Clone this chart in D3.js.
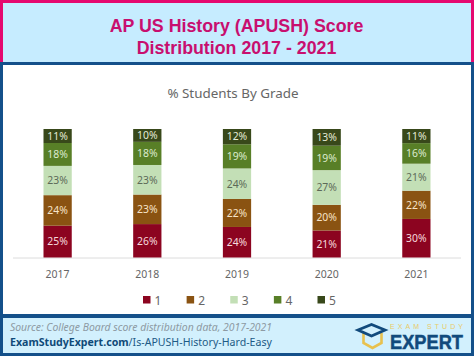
<!DOCTYPE html>
<html><head><meta charset="utf-8">
<script src="https://cdnjs.cloudflare.com/ajax/libs/d3/7.8.5/d3.min.js"></script>
<style>html,body{margin:0;padding:0;background:#fff}svg{display:block}text{font-family:"Noto Sans","Open Sans",sans-serif}</style>
</head><body><svg id="c" width="474" height="356"></svg>
<script>
const years = ["2017","2018","2019","2020","2021"];
const grades = ["1","2","3","4","5"];
const grade1 = [25,26,24,21,30];
const grade2 = [24,23,22,20,22];
const grade3 = [23,23,24,27,21];
const grade4 = [18,18,19,19,16];
const grade5 = [11,10,12,13,11];
const colours = ["#8c0420","#8a5312","#c3dfb6","#587f27","#38481a"];
const labelColours = ["#f6d9dc","#f7e3c8","#5d6a58","#dcebcf","#e4ebd8"];
const titleLines = ["AP US History (APUSH) Score","Distribution 2017 - 2021"];

const svg = d3.select("#c");
const pink="#e5096f", navy="#14508a", pale="#c6ecff";
svg.append("rect").attr("width",474).attr("height",356).attr("fill",navy);
svg.append("rect").attr("width",474).attr("height",62).attr("fill",pink);
svg.append("rect").attr("x",3).attr("y",3).attr("width",468).attr("height",59).attr("fill",pale);
svg.append("rect").attr("x",3).attr("y",65).attr("width",468).attr("height",249).attr("fill","#fff");
svg.append("rect").attr("x",3).attr("y",318).attr("width",468).attr("height",35).attr("fill","#d2f0fd");

svg.selectAll(".t").data(titleLines).join("text").attr("class","t")
  .attr("x",236.5).attr("y",(d,i)=>32+i*21.6).attr("text-anchor","middle")
  .attr("font-size",17.8).attr("font-weight",700).attr("fill","#c80f6f")
  .style("font-family",'"Liberation Sans"').text(d=>d);
svg.append("text").attr("x",233).attr("y",98).attr("text-anchor","middle")
  .attr("font-size",13.4).attr("fill","#666").text("% Students By Grade");

const rows = years.map((y,i)=>({year:y,"1":grade1[i],"2":grade2[i],"3":grade3[i],"4":grade4[i],"5":grade5[i]}));
const series = d3.stack().keys(grades).offset(d3.stackOffsetExpand)(rows);
const x = d3.scaleBand().domain(years).range([13,461]).paddingInner(0.685).paddingOuter(0.34);
const y = d3.scaleLinear().domain([0,1]).range([257.5,129]);

svg.append("line").attr("x1",13).attr("x2",461).attr("y1",258).attr("y2",258).attr("stroke","#dcdcdc").attr("stroke-width",1);
series.forEach((s,k)=>{
  const g=svg.append("g");
  g.selectAll("rect").data(s).join("rect").attr("x",d=>x(d.data.year)).attr("width",x.bandwidth())
    .attr("y",d=>y(d[1])).attr("height",d=>y(d[0])-y(d[1])).attr("fill",colours[k]);
  g.selectAll("text").data(s).join("text").attr("x",d=>x(d.data.year)+x.bandwidth()/2)
    .attr("y",d=>(y(d[0])+y(d[1]))/2+3.8).attr("text-anchor","middle").attr("font-size",10.4)
    .attr("fill",labelColours[k]).text(d=>(d.data[s.key])+"%");
});
const ax = svg.append("g").attr("transform","translate(0,258)").call(d3.axisBottom(x).tickSize(0).tickPadding(13));
ax.select(".domain").remove();
ax.selectAll("text").attr("font-size",10.5).attr("fill","#666").style("font-family",'"Noto Sans"');

const lx = d3.scalePoint().domain(grades).range([146.5,321]);
const lg = svg.selectAll(".lg").data(grades).join("g").attr("class","lg").attr("transform",d=>`translate(${lx(d)},300)`);
lg.append("rect").attr("x",-3.5).attr("y",-4).attr("width",7.5).attr("height",7.5).attr("fill",(d,i)=>colours[i]);
lg.append("text").attr("x",8).attr("y",4.5).attr("font-size",12).attr("fill","#666").text(d=>d);

svg.append("text").attr("x",10).attr("y",331).attr("font-size",10.4).attr("font-style","italic").attr("fill","#8d9aa3").text("Source: College Board score distribution data, 2017-2021");
const u = svg.append("text").attr("x",10).attr("y",346).attr("font-size",10.6).attr("fill","#1d5a85");
u.append("tspan").attr("font-weight",700).attr("fill","#0f4a78").text("ExamStudyExpert.com");
u.append("tspan").text("/Is-APUSH-History-Hard-Easy");

// logo
const logo = svg.append("g");
logo.append("path").attr("d","M363.5 333 V343 L372.5 348 L381.5 343 V333").attr("fill","none").attr("stroke","#e8c14e").attr("stroke-width",2.6);
logo.append("path").attr("d","M358 330 L371.5 324.5 L385 330 L371.5 336 Z").attr("fill","#d2f0fd").attr("stroke","#114a7c").attr("stroke-width",2.8);
svg.append("text").attr("x",390).attr("y",328.8).attr("font-size",7).attr("textLength",73)
  .style("font-family",'"Liberation Sans"').attr("fill","#e8cb68").text("EXAM STUDY");
svg.append("text").attr("x",390).attr("y",348.5).attr("font-size",20).attr("font-weight",700).attr("fill","#114a7c")
  .attr("stroke","#114a7c").attr("stroke-width",0.5)
  .style("font-family",'"Liberation Sans"').attr("textLength",73).attr("lengthAdjust","spacingAndGlyphs").text("EXPERT");
</script></body></html>
